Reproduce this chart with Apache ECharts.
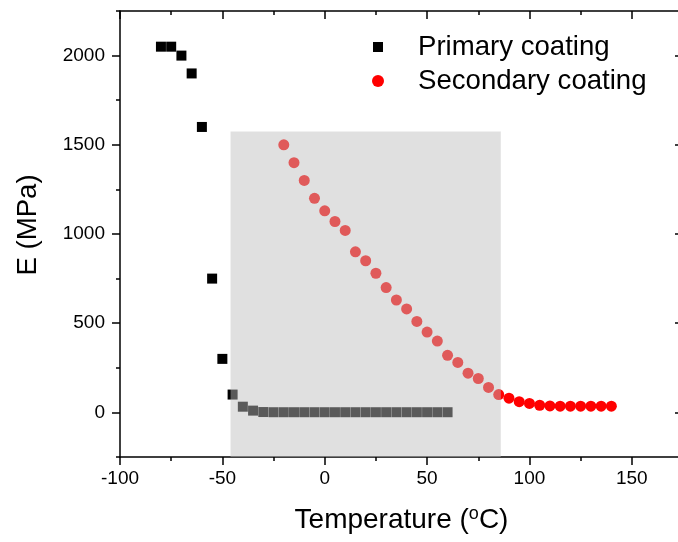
<!DOCTYPE html>
<html>
<head>
<meta charset="utf-8">
<script src="https://cdn.jsdelivr.net/npm/echarts@6/dist/echarts.min.js"></script>
<style>
  html, body { margin: 0; padding: 0; background: #fff; }
  #chart { width: 678px; height: 542px; }
</style>
</head>
<body>
<div id="chart"></div>
<script>
// Young's modulus vs temperature for the two fibre coating layers
const primaryTemp = [-80, -75, -70, -65, -60, -55, -50, -45, -40, -35, -30, -25, -20, -15, -10, -5, 0, 5, 10, 15, 20, 25, 30, 35, 40, 45, 50, 55, 60];
const primaryE    = [2050, 2050, 2000, 1900, 1600, 750, 300, 100, 32, 10, 2, 1, 1, 1, 1, 1, 1, 1, 1, 1, 1, 1, 1, 1, 1, 1, 1, 1, 1];

const secondaryTemp = [-20, -15, -10, -5, 0, 5, 10, 15, 20, 25, 30, 35, 40, 45, 50, 55, 60, 65, 70, 75, 80, 85, 90, 95, 100, 105, 110, 115, 120, 125, 130, 135, 140];
const secondaryE    = [1500, 1400, 1300, 1200, 1130, 1070, 1020, 900, 850, 780, 700, 630, 580, 510, 450, 400, 320, 280, 220, 190, 140, 100, 80, 60, 50, 40, 36, 35, 35, 35, 35, 35, 35];

// Shaded temperature window (x from, x to) and its E extent (bottom, top)
const shadeTemp = [-46, 86];
const shadeE = [-255, 1575];

const yMajorTicks = [0, 500, 1000, 1500, 2000];
const seriesNames = ['Primary coating', 'Secondary coating'];

const FONT = '"Liberation Sans", Arial, Helvetica, sans-serif';
const INK = '#000';
const TITLE_SIZE = 27.6;

const pairs = (xs, ys) => xs.map((x, i) => [x, ys[i]]);

const axisLine = { show: true, onZero: false, lineStyle: { color: INK, width: 1.5 } };
const yScale = { type: 'value', min: -250, max: 2250, interval: 250, splitLine: { show: false } };
const xScale = { type: 'value', min: -100, max: 175, interval: 50, splitLine: { show: false } };

const chart = echarts.init(document.getElementById('chart'), null, { renderer: 'canvas' });

chart.setOption({
  animation: false,
  backgroundColor: '#fff',
  // the plot frame runs a few pixels past the right edge of the canvas
  grid: { left: 120, top: 11, width: 563, height: 446, outerBoundsMode: 'none', containLabel: false },
  legend: [
    {
      data: [seriesNames[0]], left: 373, top: 33, padding: 0,
      itemWidth: 10, itemHeight: 10, selectedMode: false,
      textStyle: { fontSize: TITLE_SIZE, color: INK, fontFamily: FONT, padding: [0, 0, 0, 30] }
    },
    {
      data: [seriesNames[1]], left: 372, top: 67, padding: 0,
      itemWidth: 12, itemHeight: 12, selectedMode: false,
      textStyle: { fontSize: TITLE_SIZE, color: INK, fontFamily: FONT, padding: [0, 0, 0, 29] }
    }
  ],
  xAxis: [
    Object.assign({}, xScale, {
      position: 'bottom',
      name: '{n|Temperature (}{sup|o}{n|C)}',
      nameLocation: 'middle',
      nameGap: 48,
      nameTextStyle: {
        fontSize: 28, color: INK, fontFamily: FONT,
        rich: {
          n: { fontSize: 28, lineHeight: 30, color: INK, fontFamily: FONT },
          sup: { fontSize: 18, lineHeight: 14, color: INK, fontFamily: FONT, verticalAlign: 'top' }
        }
      },
      axisLine: axisLine,
      axisTick: { show: true, inside: false, length: 8, lineStyle: { color: INK, width: 1.5 } },
      minorTick: { show: true, splitNumber: 2, length: 4, lineStyle: { color: INK, width: 1.5 } },
      axisLabel: { color: INK, fontSize: 19, fontFamily: FONT, margin: 12, showMaxLabel: false }
    }),
    Object.assign({}, xScale, {
      position: 'top',
      axisLine: axisLine,
      axisTick: { show: true, inside: true, length: 8, lineStyle: { color: INK, width: 1.5 } },
      minorTick: { show: true, splitNumber: 2, length: 4, lineStyle: { color: INK, width: 1.5 } },
      axisLabel: { show: false }
    })
  ],
  yAxis: [
    Object.assign({}, yScale, {
      position: 'left',
      name: 'E (MPa)',
      nameLocation: 'middle',
      nameGap: 78,
      nameTextStyle: { fontSize: TITLE_SIZE, color: INK, fontFamily: FONT, padding: [0, 0, 0, 18] },
      axisLine: axisLine,
      axisTick: { show: true, inside: false, length: 4, lineStyle: { color: INK, width: 1.5 } },
      axisLabel: {
        color: INK, fontSize: 19, fontFamily: FONT, margin: 15,
        customValues: yMajorTicks,
        formatter: v => String(v)
      }
    }),
    Object.assign({}, yScale, {
      position: 'left',
      axisLine: { show: false, onZero: false },
      axisTick: { show: true, inside: false, length: 8, customValues: yMajorTicks, lineStyle: { color: INK, width: 1.5 } },
      axisLabel: { show: false }
    }),
    Object.assign({}, yScale, {
      position: 'right',
      axisLine: axisLine,
      axisTick: { show: true, inside: true, length: 8, customValues: yMajorTicks, lineStyle: { color: INK, width: 1.5 } },
      axisLabel: { show: false }
    })
  ],
  series: [
    {
      name: seriesNames[0],
      type: 'scatter',
      symbol: 'rect',
      symbolSize: 10,
      itemStyle: { color: '#000', opacity: 1 },
      data: pairs(primaryTemp, primaryE)
    },
    {
      name: seriesNames[1],
      type: 'scatter',
      symbol: 'circle',
      symbolSize: 11,
      itemStyle: { color: '#ff0000', opacity: 1 },
      data: pairs(secondaryTemp, secondaryE)
    },
    {
      name: 'shade',
      type: 'scatter',
      data: [],
      clip: false,
      silent: true,
      markArea: {
        silent: true,
        z: 10,
        itemStyle: { color: 'rgba(189,189,189,0.475)', borderWidth: 0 },
        data: [[
          { coord: [shadeTemp[0], shadeE[0]] },
          { coord: [shadeTemp[1], shadeE[1]] }
        ]]
      }
    }
  ]
});
</script>
</body>
</html>
